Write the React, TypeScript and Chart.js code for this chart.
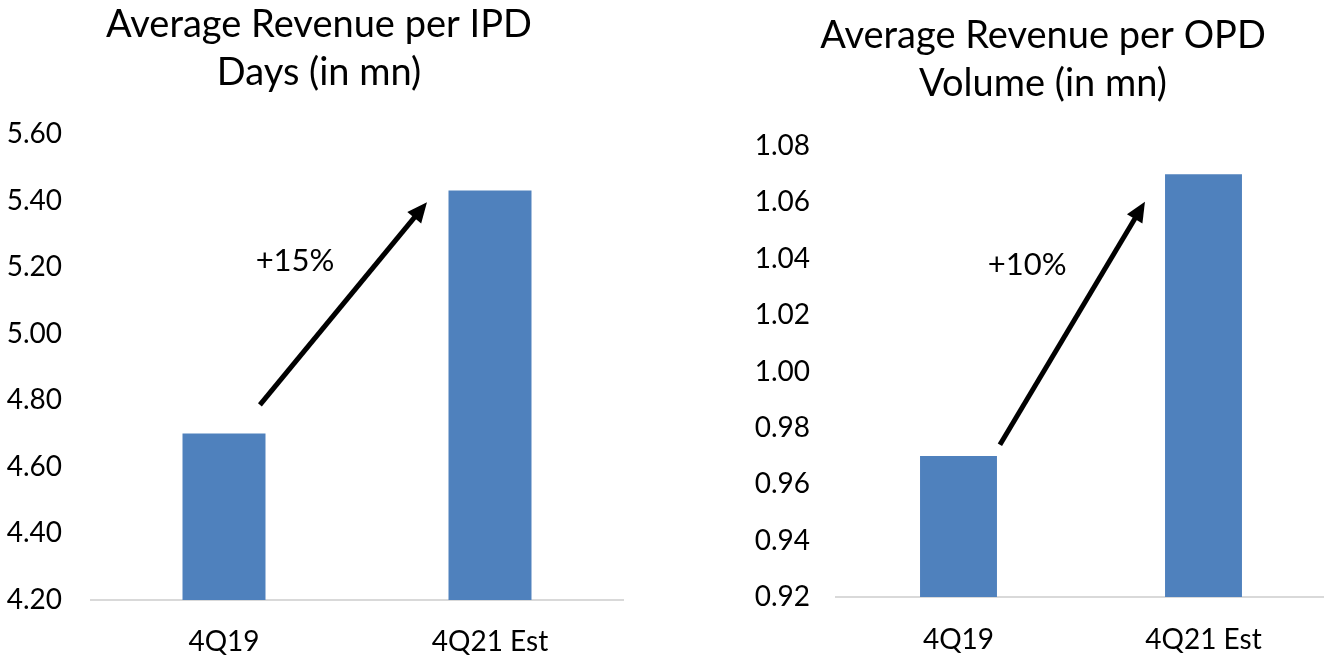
import React, { useEffect, useRef } from "react";
import { Chart, registerables } from "chart.js";

Chart.register(...registerables);

// ---- data ----
const categories = ["4Q19", "4Q21 Est"];

const ipdTitle = ["Average Revenue per IPD", "Days (in mn)"];
const ipdValues = [4.7, 5.43];
const ipdTicks = { min: 4.2, max: 5.6, step: 0.2 };
const ipdArrowFrom = [0.135, 4.786];
const ipdArrowTo = [0.763, 5.395];
const ipdLabel = "+15%";
const ipdLabelAt = [0.267, 5.218];

const opdTitle = ["Average Revenue per OPD", "Volume (in mn)"];
const opdValues = [0.97, 1.07];
const opdTicks = { min: 0.92, max: 1.08, step: 0.02 };
const opdArrowFrom = [0.169, 0.974];
const opdArrowTo = [0.761, 1.0602];
const opdLabel = "+10%";
const opdLabelAt = [0.28, 1.0377];

const FONT = "Lato, 'Open Sans', sans-serif";
const BAR_COLOR = "#4F81BD";

// Title centred on the whole canvas (Chart.js' own title centres on the padded box)
const centerTitlePlugin = {
  id: "centerTitle",
  afterDraw(chart: any) {
    const o = chart.options.plugins.centerTitle;
    if (!o) return;
    const ctx = chart.ctx;
    ctx.save();
    ctx.fillStyle = "#000";
    ctx.font = `${o.size}px ${FONT}`;
    ctx.textAlign = "center";
    ctx.textBaseline = "middle";
    o.lines.forEach((line: string, i: number) => {
      ctx.fillText(line, chart.width / 2, o.top + o.lineHeight / 2 + i * o.lineHeight);
    });
    ctx.restore();
  },
};

const arrowPlugin = {
  id: "arrowNote",
  afterDatasetsDraw(chart: any) {
    const o = chart.options.plugins.arrowNote;
    if (!o) return;
    const xs = chart.scales.x;
    const ys = chart.scales.y;
    const x1 = xs.getPixelForValue(o.from[0]);
    const y1 = ys.getPixelForValue(o.from[1]);
    const x2 = xs.getPixelForValue(o.to[0]);
    const y2 = ys.getPixelForValue(o.to[1]);
    const ang = Math.atan2(y2 - y1, x2 - x1);
    const headLen = 20;
    const headW = 9;
    const ctx = chart.ctx;
    ctx.save();
    ctx.strokeStyle = "#000";
    ctx.fillStyle = "#000";
    ctx.lineWidth = 5;
    ctx.beginPath();
    ctx.moveTo(x1, y1);
    ctx.lineTo(x2 - Math.cos(ang) * (headLen - 2), y2 - Math.sin(ang) * (headLen - 2));
    ctx.stroke();
    const bx = x2 - Math.cos(ang) * headLen;
    const by = y2 - Math.sin(ang) * headLen;
    ctx.beginPath();
    ctx.moveTo(x2, y2);
    ctx.lineTo(bx + Math.sin(ang) * headW, by - Math.cos(ang) * headW);
    ctx.lineTo(bx - Math.sin(ang) * headW, by + Math.cos(ang) * headW);
    ctx.closePath();
    ctx.fill();
    ctx.font = `31px ${FONT}`;
    ctx.textAlign = "center";
    ctx.textBaseline = "middle";
    ctx.fillText(o.label, xs.getPixelForValue(o.labelAt[0]), ys.getPixelForValue(o.labelAt[1]));
    ctx.restore();
  },
};

function makeConfig(p: any) {
  return {
    type: "bar",
    data: {
      labels: categories,
      datasets: [
        {
          data: p.values,
          backgroundColor: BAR_COLOR,
          borderWidth: 0,
          categoryPercentage: 1,
          barPercentage: p.barPct,
        },
      ],
    },
    plugins: [arrowPlugin, centerTitlePlugin],
    options: {
      responsive: false,
      animation: false,
      devicePixelRatio: 1,
      layout: { padding: { left: 0, right: p.padRight, top: p.plotTop, bottom: 0 } },
      plugins: {
        legend: { display: false },
        tooltip: { enabled: false },
        title: { display: false },
        centerTitle: { lines: p.title, size: 38, lineHeight: 48, top: p.titleTop },
        arrowNote: p.arrow,
      },
      scales: {
        x: {
          grid: { display: false, drawTicks: false },
          border: { display: true, color: "#d9d9d9", width: 2 },
          ticks: {
            color: "#000",
            font: { family: FONT, size: 28 },
            padding: p.xPad,
          },
          afterFit: (s: any) => {
            s.height = p.xHeight;
          },
        },
        y: {
          min: p.ticks.min,
          max: p.ticks.max,
          grid: { display: false, drawTicks: false },
          border: { display: false },
          ticks: {
            stepSize: p.ticks.step,
            color: "#000",
            font: { family: FONT, size: 28 },
            padding: p.yPad,
            callback: (v: any) => Number(v).toFixed(2),
          },
          afterFit: (s: any) => {
            s.width = p.yWidth;
          },
        },
      },
    },
  };
}

function BarPanel(props: { cfg: any; width: number; height: number; left: number }) {
  const ref = useRef<HTMLCanvasElement>(null);
  useEffect(() => {
    if (!ref.current) return;
    const chart = new Chart(ref.current, makeConfig(props.cfg) as any);
    return () => chart.destroy();
  }, []);
  return (
    <canvas
      ref={ref}
      width={props.width}
      height={props.height}
      style={{ position: "absolute", left: props.left, top: 0, width: props.width, height: props.height }}
    />
  );
}

export default function App() {
  const left = {
    title: ipdTitle,
    values: ipdValues,
    ticks: ipdTicks,
    barPct: 0.312,
    padRight: 15,
    plotTop: 134,
    yWidth: 91,
    yPad: 29,
    xPad: 25,
    xHeight: 56,
    titleTop: 1,
    arrow: { from: ipdArrowFrom, to: ipdArrowTo, label: ipdLabel, labelAt: ipdLabelAt },
  };
  const right = {
    title: opdTitle,
    values: opdValues,
    ticks: opdTicks,
    barPct: 0.314,
    padRight: 14,
    plotTop: 146,
    yWidth: 90,
    yPad: 26,
    xPad: 26,
    xHeight: 59,
    titleTop: 12,
    arrow: { from: opdArrowFrom, to: opdArrowTo, label: opdLabel, labelAt: opdLabelAt },
  };
  return (
    <div
      style={{
        position: "fixed",
        left: 0,
        top: 0,
        width: 1324,
        height: 656,
        overflow: "hidden",
        background: "#fff",
      }}
    >
      <BarPanel cfg={left} width={638} height={656} left={0} />
      <BarPanel cfg={right} width={594} height={656} left={746} />
    </div>
  );
}
